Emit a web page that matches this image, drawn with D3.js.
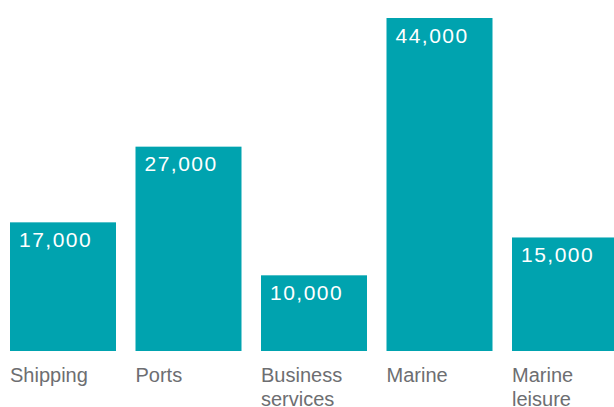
<!DOCTYPE html>
<html><head><meta charset="utf-8">
<script src="https://cdn.jsdelivr.net/npm/d3@7"></script>
<style>html,body{margin:0;padding:0;background:#fff;}svg{display:block;}</style>
</head><body>
<svg id="chart" width="614" height="407"></svg>
<script>
const categories = [["Shipping"], ["Ports"], ["Business", "services"], ["Marine"], ["Marine", "leisure"]];
const values = [17000, 27000, 10000, 44000, 15000];

const svg = d3.select("#chart");
const baseY = 351;
const pin = 19.5 / 125.5;
const x = d3.scaleBand().domain(d3.range(values.length))
  .range([10, 10 + 125.5 * 5]).paddingInner(pin).paddingOuter(pin / 2).align(0);
const y = d3.scaleLinear().domain([0, 44000]).range([baseY, 18]);
const fmt = d3.format(",");
const font = "'Liberation Sans', Arial, Helvetica, sans-serif";

svg.selectAll("rect.bar").data(values).join("rect")
  .attr("class", "bar")
  .attr("x", (d, i) => x(i))
  .attr("y", d => y(d))
  .attr("width", x.bandwidth())
  .attr("height", d => baseY - y(d))
  .attr("fill", "#00A3AF");

svg.selectAll("text.val").data(values).join("text")
  .attr("class", "val")
  .attr("x", (d, i) => x(i) + 9)
  .attr("y", d => y(d) + 24.5)
  .attr("fill", "#fff")
  .style("font-family", font)
  .style("font-size", "21px")
  .style("letter-spacing", "1.5px")
  .text(d => fmt(d));

const lab = svg.selectAll("text.cat").data(categories).join("text")
  .attr("class", "cat")
  .attr("x", (d, i) => x(i))
  .attr("y", 382)
  .attr("fill", "#6d6e71")
  .style("font-family", font)
  .style("font-size", "20px");
lab.selectAll("tspan").data(d => d).join("tspan")
  .attr("x", function() { return d3.select(this.parentNode).attr("x"); })
  .attr("dy", (d, i) => i === 0 ? 0 : 24)
  .text(d => d);
</script>
</body></html>
